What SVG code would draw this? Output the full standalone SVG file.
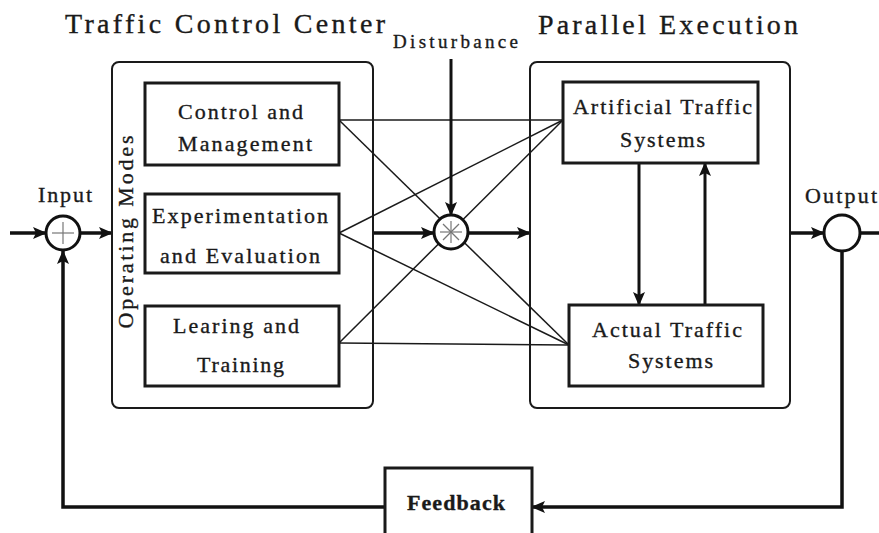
<svg xmlns="http://www.w3.org/2000/svg" width="879" height="533" viewBox="0 0 879 533">
<style>
text{font-family:"Liberation Serif","DejaVu Serif",serif;fill:#1a1a1a;stroke:#1a1a1a;stroke-width:0.35}
.title{font-size:28px}
.lbl{font-size:22px}
.sm{font-size:19px}
.frame{fill:none;stroke:#1a1a1a;stroke-width:2}
.box{fill:#fff;stroke:#1a1a1a;stroke-width:3}
.thin{fill:none;stroke:#1a1a1a;stroke-width:1.5}
.thick{fill:none;stroke:#111;stroke-width:3.5}
.mid{fill:none;stroke:#111;stroke-width:3}
.sum{fill:#fff;stroke:#111;stroke-width:3}
.glyph{stroke:#777;stroke-width:1.2}
</style>
<defs>
<marker id="ah" markerUnits="userSpaceOnUse" markerWidth="14" markerHeight="12" refX="13" refY="6" orient="auto">
<path d="M0,0 L14,6 L0,12 L3,6 Z" fill="#111"/>
</marker>
</defs>

<text class="title" x="65" y="33" textLength="320" lengthAdjust="spacing">Traffic Control Center</text>
<text class="title" x="538" y="34" textLength="260" lengthAdjust="spacing">Parallel Execution</text>

<g id="connectors">
<line class="thin" x1="339" y1="120" x2="563" y2="120"/>
<line class="thin" x1="339" y1="120" x2="569" y2="345"/>
<line class="thin" x1="339" y1="233" x2="563" y2="120"/>
<line class="thin" x1="339" y1="233" x2="569" y2="345"/>
<line class="thin" x1="339" y1="343" x2="563" y2="120"/>
<line class="thin" x1="339" y1="343" x2="569" y2="345"/>
<line class="thick" x1="10" y1="233" x2="46" y2="233" marker-end="url(#ah)"/>
<line class="thick" x1="80" y1="233" x2="112" y2="233" marker-end="url(#ah)"/>
<line class="thick" x1="373" y1="233" x2="434" y2="233" marker-end="url(#ah)"/>
<line class="thick" x1="468" y1="233" x2="530" y2="233" marker-end="url(#ah)"/>
<line class="mid" x1="451" y1="59" x2="451" y2="215" marker-end="url(#ah)"/>
<line class="mid" x1="639" y1="163" x2="639" y2="305" marker-end="url(#ah)"/>
<line class="mid" x1="705" y1="305" x2="705" y2="163" marker-end="url(#ah)"/>
<line class="thick" x1="790" y1="233" x2="824" y2="233" marker-end="url(#ah)"/>
<line class="thick" x1="860" y1="233" x2="879" y2="233"/>
<polyline class="thick" points="842,251 842,507 532,507" marker-end="url(#ah)"/>
<polyline class="thick" points="385,507 63,507 63,251" marker-end="url(#ah)"/>
</g>

<g id="tcc">
<rect class="frame" x="112" y="62" width="261" height="346" rx="7"/>
<text class="lbl" transform="translate(133,232) rotate(-90)" text-anchor="middle" textLength="193" lengthAdjust="spacing">Operating Modes</text>
</g>
<g id="control">
<rect class="box" x="145" y="83" width="194" height="82"/>
<text class="lbl" x="178" y="119" textLength="125" lengthAdjust="spacing">Control and</text>
<text class="lbl" x="178" y="151" textLength="134" lengthAdjust="spacing">Management</text>
</g>
<g id="experiment">
<rect class="box" x="145" y="194" width="194" height="79"/>
<text class="lbl" x="152" y="223" textLength="176" lengthAdjust="spacing">Experimentation</text>
<text class="lbl" x="160" y="263" textLength="160" lengthAdjust="spacing">and Evaluation</text>
</g>
<g id="learning">
<rect class="box" x="145" y="306" width="194" height="80"/>
<text class="lbl" x="173" y="333" textLength="126" lengthAdjust="spacing">Learing and</text>
<text class="lbl" x="197" y="372" textLength="87" lengthAdjust="spacing">Training</text>
</g>

<g id="pe">
<rect class="frame" x="530" y="62" width="260" height="346" rx="7"/>
</g>
<g id="artificial">
<rect class="box" x="563" y="82" width="195" height="81"/>
<text class="lbl" x="573" y="114" textLength="179" lengthAdjust="spacing">Artificial Traffic</text>
<text class="lbl" x="620" y="147" textLength="85" lengthAdjust="spacing">Systems</text>
</g>
<g id="actual">
<rect class="box" x="569" y="305" width="194" height="81"/>
<text class="lbl" x="592" y="337" textLength="150" lengthAdjust="spacing">Actual Traffic</text>
<text class="lbl" x="628" y="368" textLength="85" lengthAdjust="spacing">Systems</text>
</g>

<g id="disturbance">
<text class="sm" x="393" y="48" textLength="125" lengthAdjust="spacing">Disturbance</text>
<circle class="sum" cx="451" cy="232" r="17"/>
<line class="glyph" x1="440" y1="232" x2="462" y2="232"/>
<line class="glyph" x1="451" y1="221" x2="451" y2="243"/>
<line class="glyph" x1="443" y1="224" x2="459" y2="240"/>
<line class="glyph" x1="443" y1="240" x2="459" y2="224"/>
</g>

<g id="input">
<text class="lbl" x="38" y="202" textLength="54" lengthAdjust="spacing">Input</text>
<circle class="sum" cx="63" cy="233" r="17"/>
<line class="glyph" x1="52" y1="233" x2="74" y2="233"/>
<line class="glyph" x1="63" y1="222" x2="63" y2="244"/>
</g>

<g id="output">
<text class="lbl" x="805" y="203" textLength="72" lengthAdjust="spacing">Output</text>
<circle class="sum" cx="842" cy="233" r="18"/>
</g>

<g id="feedback">
<rect class="box" x="385" y="468" width="147" height="80"/>
<text class="lbl" x="407" y="510" textLength="98" lengthAdjust="spacing" font-weight="bold" stroke-width="0">Feedback</text>
</g>
</svg>
